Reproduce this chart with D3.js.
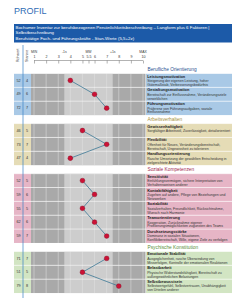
<!DOCTYPE html>
<html>
<head>
<meta charset="utf-8">
<script src="https://cdn.jsdelivr.net/npm/d3@7"></script>
<style>
  body { margin: 0; background: #fff; }
  svg { display: block; font-family: "Liberation Sans", Arial, sans-serif; }
</style>
</head>
<body>
<div id="chart"></div>
<script>
// section titles and which section each scale belongs to
var sections = ['Berufliche Orientierung', 'Arbeitsverhalten', 'Soziale Kompetenzen', 'Psychische Konstitution'];
var sectionOf = [0, 0, 0, 1, 1, 1, 2, 2, 2, 2, 2, 3, 3, 3];
var scaleNames = [
    'Leistungsmotivation', 'Gestaltungsmotivation', 'Führungsmotivation',
    'Gewissenhaftigkeit', 'Flexibilität', 'Handlungsorientierung',
    'Sensitivität', 'Kontaktfähigkeit', 'Soziabilität', 'Teamorientierung', 'Durchsetzungsstärke',
    'Emotionale Stabilität', 'Belastbarkeit', 'Selbstbewusstsein'
];
var descriptions = [
    'Steigerung der eigenen Leistung, hoher Gütemaßstab, Verbesserungsbedürfnis',
    'Bereitschaft zur Einflussnahme, Veränderungsziele verwirklichen',
    'Präferenz von Führungsaufgaben, soziale Einflussnahme',
    'Sorgfältiger Arbeitsstil, Zuverlässigkeit, detailorientiert',
    'Offenheit für Neues, Veränderungsbereitschaft, Bereitschaft, Ungewissheit zu tolerieren',
    'Rasche Umsetzung der gewählten Entscheidung in zielgerichtete Aktivität',
    'Einfühlungsvermögen, sichere Interpretation von Verhaltensweisen anderer',
    'Zugehen auf andere, Pflege von Beziehungen und Netzwerken',
    'Sozialverhalten, Freundlichkeit, Rücksichtnahme, Wunsch nach Harmonie',
    'Kooperation, Zurücknahme eigener Profilierungsmöglichkeiten zugunsten des Teams',
    'Dominanz in sozialen Situationen, Konfliktbereitschaft, Wille, eigene Ziele zu verfolgen',
    'Ausgeglichenheit, rasche Überwindung von Misserfolgen, Kontrolle der emotionalen Reaktionen',
    'Physische Widerstandsfähigkeit, Bereitschaft zu außergewöhnlichen Belastungen',
    'Selbstwertgefühl, Selbstvertrauen, Unabhängigkeit von Urteilen anderer'
];
var rawScores = [52, 49, 72, 46, 73, 47, 52, 59, 55, 62, 59, 71, 51, 79];
var stenScores = [4, 6, 7, 5, 7, 4, 5, 6, 5, 6, 7, 7, 5, 8];
var tickValues = [1, 2, 3, 4, 5, 5.5, 6, 7, 8, 9, 10];
var markerValues = [1, 3.5, 5.5, 7.5, 10];
var markerLabels = ['MIN', '-1s', 'MW', '+1s', 'MAX'];
var bannerLines = [
    'Bochumer Inventar zur berufsbezogenen Persönlichkeitsbeschreibung – Langform plus 6 Faktoren |',
    'Selbstbeschreibung',
    'Berufstätige Fach- und Führungskräfte - Stan-Werte (5,5+2z)'
];

var conf = {
    width: 246,
    height: 300,
    left: 14,
    right: 232,
    top: 65,
    headerH: 8.5,
    rowH: 13.86,
    bg: ['#a9c9e6', '#e5dcb6', '#e6b5c6', '#d2e5c3'],
    titleColor: ['#1f4f8f', '#a8923c', '#a3294f', '#5c8f3c']
};

var svg = d3.select('#chart').append('svg')
    .attr('width', conf.width)
    .attr('height', conf.height);

var x = d3.scaleLinear().domain([1, 10]).range([34, 143]);
var plotX0 = 31, plotX1 = 145.5, descX = 146;

// title
svg.append('text')
    .attr('x', conf.left).attr('y', 14)
    .attr('font-size', 9).attr('fill', '#2f6db5')
    .text('PROFIL');

// banner
svg.append('rect')
    .attr('x', conf.left).attr('y', 24)
    .attr('width', conf.right - conf.left).attr('height', 18.5)
    .attr('fill', '#1c5aa8');
svg.selectAll('text.banner')
    .data(bannerLines).enter().append('text')
    .attr('class', 'banner')
    .attr('x', conf.left + 1.5)
    .attr('y', function (d, i) { return 29.2 + i * 5.2; })
    .attr('font-size', 4.4).attr('fill', '#fff')
    .text(function (d) { return d; });

// compute row positions
var rows = [];
var y = conf.top;
sections.forEach(function (s, si) {
    rows.push({ type: 'header', section: si, y: y, h: conf.headerH });
    y += conf.headerH;
    sectionOf.forEach(function (sec, i) {
        if (sec === si) {
            rows.push({ type: 'item', section: si, index: i, y: y, h: conf.rowH });
            y += conf.rowH;
        }
    });
});
var items = rows.filter(function (r) { return r.type === 'item'; });
var headers = rows.filter(function (r) { return r.type === 'header'; });

// axis header
svg.append('text')
    .attr('transform', 'translate(18.5,62) rotate(-90)')
    .attr('font-size', 3.6).attr('fill', '#333').text('Rohwert');
svg.append('text')
    .attr('transform', 'translate(28,62) rotate(-90)')
    .attr('font-size', 3.6).attr('fill', '#333').text('Stanine');

var axis = d3.axisTop(x)
    .tickValues(tickValues)
    .tickSize(-3)
    .tickFormat(function (d) { return String(d); });
var axisG = svg.append('g')
    .attr('transform', 'translate(0,60.5)')
    .call(axis);
axisG.select('.domain').attr('stroke', '#666').attr('stroke-width', 0.5).attr('d', 'M' + x(1) + ',0H' + x(10));
axisG.selectAll('.tick line').attr('stroke', '#666').attr('stroke-width', 0.5);
axisG.selectAll('.tick text')
    .attr('y', -3).attr('font-size', 3.6).attr('fill', '#333')
    .attr('font-family', '"Liberation Sans", Arial, sans-serif');

svg.selectAll('text.marker')
    .data(markerValues).enter().append('text')
    .attr('class', 'marker')
    .attr('x', function (d) { return x(d); })
    .attr('y', 53)
    .attr('text-anchor', 'middle')
    .attr('font-size', 3.4).attr('fill', '#333')
    .text(function (d, i) { return markerLabels[i]; });

// left value columns + description backgrounds
svg.selectAll('rect.left')
    .data(items).enter().append('rect')
    .attr('x', conf.left).attr('y', function (d) { return d.y; })
    .attr('width', plotX0 - conf.left).attr('height', function (d) { return d.h; })
    .attr('fill', function (d) { return conf.bg[d.section]; });
svg.selectAll('rect.desc')
    .data(items).enter().append('rect')
    .attr('x', descX).attr('y', function (d) { return d.y; })
    .attr('width', conf.right - descX).attr('height', function (d) { return d.h; })
    .attr('fill', function (d) { return conf.bg[d.section]; });

// grey plot bands
svg.selectAll('g.band')
    .data(items).enter().append('g')
    .each(function (d) {
        var g = d3.select(this);
        g.append('rect')
            .attr('x', plotX0).attr('y', d.y)
            .attr('width', plotX1 - plotX0).attr('height', d.h)
            .attr('fill', '#a9a9a9');
        g.append('rect')
            .attr('x', x(3.5)).attr('y', d.y)
            .attr('width', x(7.5) - x(3.5)).attr('height', d.h)
            .attr('fill', '#cdcdcd');
    });

// vertical grid lines
var gridVals = d3.range(1, 11);
items.forEach(function (d) {
    svg.selectAll(null)
        .data(gridVals).enter().append('line')
        .attr('x1', function (v) { return x(v); })
        .attr('x2', function (v) { return x(v); })
        .attr('y1', d.y).attr('y2', d.y + d.h)
        .attr('stroke', '#e2e2e2').attr('stroke-width', 0.5);
});

// row separators
svg.selectAll('line.sep')
    .data(items).enter().append('line')
    .attr('x1', conf.left).attr('x2', conf.right)
    .attr('y1', function (d) { return d.y; }).attr('y2', function (d) { return d.y; })
    .attr('stroke', '#fff').attr('stroke-width', 0.6);

// section headers
svg.selectAll('text.section')
    .data(headers).enter().append('text')
    .attr('x', descX + 1.5).attr('y', function (d) { return d.y + 6.3; })
    .attr('font-size', 4.8)
    .attr('fill', function (d) { return conf.titleColor[d.section]; })
    .text(function (d) { return sections[d.section]; });

// raw + sten numbers
svg.selectAll('text.raw')
    .data(items).enter().append('text')
    .attr('x', 18.5).attr('y', function (d) { return d.y + d.h / 2 + 1.2; })
    .attr('text-anchor', 'middle').attr('font-size', 3.8).attr('fill', '#333')
    .text(function (d) { return rawScores[d.index]; });
svg.selectAll('text.sten')
    .data(items).enter().append('text')
    .attr('x', 27).attr('y', function (d) { return d.y + d.h / 2 + 1.2; })
    .attr('text-anchor', 'middle').attr('font-size', 3.8).attr('fill', '#333')
    .text(function (d) { return stenScores[d.index]; });

// blue vertical line
svg.append('line')
    .attr('x1', 23).attr('x2', 23)
    .attr('y1', 45).attr('y2', 298)
    .attr('stroke', '#3b82c4').attr('stroke-width', 0.7);

// descriptions with simple wrapping
var maxW = conf.right - descX - 2.5;
items.forEach(function (d) {
    svg.append('text')
        .attr('x', descX + 1.2).attr('y', d.y + 4)
        .attr('font-size', 3.9).attr('font-weight', 'bold').attr('fill', '#222')
        .text(scaleNames[d.index]);
    var t = svg.append('text')
        .attr('x', descX + 1.2).attr('y', d.y + 8.3)
        .attr('font-size', 3.5).attr('fill', '#333');
    var words = descriptions[d.index].split(' ');
    var line = [];
    var tspan = t.append('tspan').attr('x', descX + 1.2).attr('dy', 0);
    words.forEach(function (w) {
        line.push(w);
        tspan.text(line.join(' '));
        if (tspan.node().getComputedTextLength() > maxW && line.length > 1) {
            line.pop();
            tspan.text(line.join(' '));
            line = [w];
            tspan = t.append('tspan').attr('x', descX + 1.2).attr('dy', 3.9).text(w);
        }
    });
});

// profile lines per section, then dots
sections.forEach(function (s, si) {
    var pts = items.filter(function (d) { return d.section === si; });
    svg.append('path')
        .datum(pts)
        .attr('fill', 'none')
        .attr('stroke', '#3c7896').attr('stroke-width', 0.8)
        .attr('d', d3.line()
            .x(function (d) { return x(stenScores[d.index]); })
            .y(function (d) { return d.y + d.h / 2; }));
});
svg.selectAll('circle.dot')
    .data(items).enter().append('circle')
    .attr('cx', function (d) { return x(stenScores[d.index]); })
    .attr('cy', function (d) { return d.y + d.h / 2; })
    .attr('r', 2.4)
    .attr('fill', '#cc1236').attr('stroke', '#7d0b22').attr('stroke-width', 0.4);
</script>
</body>
</html>
